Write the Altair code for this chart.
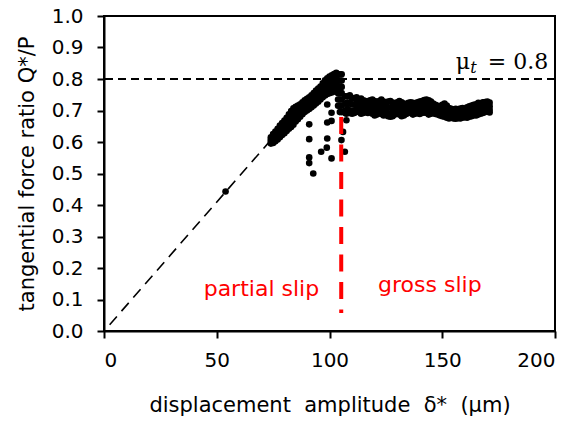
import altair as alt
import pandas as pd

# ---------------- data ----------------
# rising (partial-slip) band: columns of points
rise_x = [74, 75, 76, 77, 78, 79, 80, 81, 82, 83, 84, 85, 86, 87, 88, 89,
          90, 91, 92, 93, 94, 95, 96, 97, 98, 99, 100, 101, 102, 103]
rise_r1 = [0.615, 0.625, 0.633, 0.642, 0.652, 0.660, 0.668, 0.677, 0.688, 0.698,
           0.707, 0.712, 0.716, 0.720, 0.726, 0.732, 0.737, 0.742, 0.748, 0.755,
           0.763, 0.770, 0.776, 0.786, 0.796, 0.802, 0.808, 0.812, 0.816, 0.820]
rise_r2 = [0.608, 0.616, 0.623, 0.631, 0.640, 0.647, 0.655, 0.663, 0.673, 0.681,
           0.690, 0.696, 0.701, 0.707, 0.713, 0.720, 0.725, 0.730, 0.735, 0.742,
           0.749, 0.756, 0.762, 0.771, 0.780, 0.785, 0.790, 0.794, 0.797, 0.802]
rise_r3 = [0.602, 0.606, 0.612, 0.619, 0.627, 0.635, 0.641, 0.649, 0.657, 0.665,
           0.672, 0.681, 0.687, 0.693, 0.701, 0.707, 0.712, 0.717, 0.723, 0.729,
           0.736, 0.742, 0.749, 0.757, 0.764, 0.769, 0.773, 0.775, 0.779, 0.783]
rise_r4 = [0.595, 0.597, 0.602, 0.608, 0.615, 0.622, 0.628, 0.635, 0.642, 0.648,
           0.655, 0.665, 0.672, 0.680, 0.688, 0.695, 0.700, 0.705, 0.710, 0.716,
           0.722, 0.728, 0.735, 0.742, 0.748, 0.752, 0.755, 0.757, 0.760, 0.765]

# peak column near the transition
peak_x = [103.8, 103.8, 103.8, 103.8, 103.8, 103.8,
          104.6, 104.6, 104.6, 104.6, 104.6, 104.6, 104.6,
          105.4, 105.4, 105.4, 105.4, 105.4, 105.4, 105.4]
peak_y = [0.815, 0.795, 0.775, 0.755, 0.735, 0.715,
          0.815, 0.795, 0.775, 0.755, 0.735, 0.715, 0.695,
          0.815, 0.795, 0.775, 0.755, 0.735, 0.715, 0.695]

# gross-slip plateau
plat_x = list(range(107, 172))
plat_top = [0.745, 0.745, 0.748, 0.740, 0.738, 0.742, 0.735, 0.738, 0.732, 0.730,
            0.728, 0.732, 0.735, 0.730, 0.727, 0.730, 0.735, 0.728, 0.724, 0.728,
            0.730, 0.725, 0.722, 0.726, 0.730, 0.726, 0.722, 0.720, 0.724, 0.726,
            0.724, 0.720, 0.726, 0.728, 0.730, 0.733, 0.735, 0.732, 0.728, 0.722,
            0.718, 0.715, 0.712, 0.718, 0.722, 0.716, 0.708, 0.705, 0.703, 0.705,
            0.703, 0.706, 0.708, 0.705, 0.710, 0.713, 0.716, 0.718, 0.720, 0.724,
            0.722, 0.726, 0.727, 0.728, 0.725]
plat_mid = [0.722, 0.725, 0.724, 0.719, 0.719, 0.723, 0.719, 0.718, 0.716, 0.717,
            0.714, 0.717, 0.716, 0.711, 0.711, 0.715, 0.716, 0.710, 0.709, 0.709,
            0.709, 0.707, 0.708, 0.712, 0.712, 0.708, 0.707, 0.708, 0.712, 0.713,
            0.709, 0.709, 0.713, 0.712, 0.715, 0.717, 0.717, 0.713, 0.713, 0.711,
            0.707, 0.705, 0.702, 0.704, 0.705, 0.700, 0.695, 0.695, 0.693, 0.693,
            0.693, 0.694, 0.696, 0.696, 0.697, 0.700, 0.703, 0.705, 0.706, 0.709,
            0.710, 0.713, 0.715, 0.716, 0.713]
plat_low = [0.700, 0.705, 0.700, 0.698, 0.700, 0.705, 0.703, 0.698, 0.700, 0.705,
            0.700, 0.703, 0.698, 0.692, 0.695, 0.700, 0.697, 0.692, 0.695, 0.690,
            0.688, 0.690, 0.695, 0.698, 0.695, 0.690, 0.692, 0.697, 0.700, 0.700,
            0.695, 0.698, 0.700, 0.697, 0.700, 0.702, 0.700, 0.695, 0.698, 0.700,
            0.697, 0.695, 0.692, 0.690, 0.688, 0.685, 0.683, 0.685, 0.683, 0.682,
            0.684, 0.683, 0.685, 0.687, 0.685, 0.688, 0.690, 0.693, 0.692, 0.695,
            0.698, 0.700, 0.703, 0.705, 0.702]
plat_bot = [0.692, 0.697, 0.692, 0.690, 0.692, 0.697, 0.695, 0.690, 0.692, 0.697,
            0.692, 0.695, 0.690, 0.684, 0.687, 0.692, 0.689, 0.684, 0.687, 0.682,
            0.680, 0.682, 0.687, 0.690, 0.687, 0.682, 0.684, 0.689, 0.692, 0.692,
            0.687, 0.690, 0.692, 0.689, 0.692, 0.694, 0.692, 0.687, 0.690, 0.692,
            0.689, 0.687, 0.684, 0.682, 0.680, 0.677, 0.675, 0.677, 0.675, 0.674,
            0.676, 0.675, 0.677, 0.679, 0.677, 0.680, 0.682, 0.685, 0.684, 0.687,
            0.690, 0.692, 0.695, 0.697, 0.694]

# scattered outliers
out_x = [53.9, 91.0, 91.0, 91.0, 91.0, 92.8, 99.0, 100.9, 99.0, 100.9, 99.0, 98.8,
         96.3, 100.9, 106.0, 105.3, 106.8, 107.5, 107.5]
out_y = [0.443, 0.656, 0.609, 0.551, 0.533, 0.500, 0.719, 0.693, 0.662, 0.667, 0.611,
         0.582, 0.569, 0.548, 0.632, 0.606, 0.569, 0.669, 0.690]

# guide lines
elastic_x = [2.5, 73.0]
elastic_y = [0.02, 0.598]
mu_t = 0.8
trans_x = [105.2]
trans_y_top = [0.679]
trans_y_bot = [0.057]

# annotations
region_labels = ["partial slip", "gross slip"]
region_x = [69.8, 144.5]
region_y = [0.11, 0.124]

x_ticks = [0, 50, 100, 150, 200]
y_ticks = [0.0, 0.1, 0.2, 0.3, 0.4, 0.5, 0.6, 0.7, 0.8, 0.9, 1.0]

# ---------------- build tables ----------------
rows = []
for xs_, ys_ in [(rise_x, rise_r1), (rise_x, rise_r2), (rise_x, rise_r3), (rise_x, rise_r4),
                 (peak_x, peak_y), (plat_x, plat_top), (plat_x, plat_mid),
                 (plat_x, plat_low), (plat_x, plat_bot), (out_x, out_y)]:
    rows += [{"x": a, "y": b} for a, b in zip(xs_, ys_)]
pts = pd.DataFrame(rows)

FONT = "DejaVu Sans"
xsc = alt.Scale(domain=[0, 200], nice=False, zero=False)
ysc = alt.Scale(domain=[0, 1], nice=False, zero=False)
x_axis = alt.Axis(values=x_ticks,
                  title="displacement\u00a0 amplitude\u00a0 δ*\u00a0 (μm)",
                  titleY=80, titleBaseline="alphabetic", labelPadding=12)
y_axis = alt.Axis(values=y_ticks, format=".1f",
                  title="tangential force ratio Q*/P",
                  titleX=-71, titleBaseline="alphabetic", labelPadding=14)


def X(f="x"):
    return alt.X(f + ":Q", scale=xsc, axis=x_axis, title=x_axis.title)


def Y(f="y"):
    return alt.Y(f + ":Q", scale=ysc, axis=y_axis, title=y_axis.title)


points = alt.Chart(pts).mark_circle(color="black", size=44, opacity=1).encode(x=X(), y=Y())

elastic = alt.Chart(pd.DataFrame({"x": elastic_x, "y": elastic_y})).mark_line(
    color="black", strokeWidth=1.6, strokeDash=[11, 7]).encode(x=X(), y=Y())

mu_line = alt.Chart(pd.DataFrame({"y": [mu_t]})).mark_rule(
    color="black", strokeWidth=1.8, strokeDash=[8, 5]).encode(y=Y())

trans = alt.Chart(pd.DataFrame({"x": trans_x, "y": trans_y_top, "y2": trans_y_bot})).mark_rule(
    color="#ff0000", strokeWidth=4, strokeDash=[17, 10.5]).encode(x=X(), y=Y(), y2="y2:Q")

regions = alt.Chart(pd.DataFrame({"t": region_labels, "x": region_x, "y": region_y})).mark_text(
    color="#ff0000", font=FONT, fontSize=22, align="center", baseline="alphabetic").encode(
    x=X(), y=Y(), text="t:N")

mu_main = alt.Chart(pd.DataFrame({"t": ["μ", "= 0.8"], "x": [156.0, 170.2], "y": [0.833, 0.833]})).mark_text(
    color="black", font="DejaVu Serif", fontSize=22, align="left", baseline="alphabetic").encode(
    x=X(), y=Y(), text="t:N")

mu_sub = alt.Chart(pd.DataFrame({"t": ["t"], "x": [162.4], "y": [0.8186]})).mark_text(
    color="black", font="DejaVu Serif", fontSize=16, fontStyle="italic",
    align="left", baseline="alphabetic").encode(x=X(), y=Y(), text="t:N")

chart = alt.layer(points, elastic, mu_line, trans, regions, mu_main, mu_sub).properties(
    width=451, height=315,
    autosize=alt.AutoSizeParams(type="none"),
    padding={"left": 96, "top": 8, "right": 18, "bottom": 90},
).configure_view(stroke="black", strokeWidth=2).configure_axis(
    grid=False, domainColor="black", domainWidth=2, tickColor="black", tickWidth=2,
    tickSize=7, labelColor="black", titleColor="black", labelFont=FONT, titleFont=FONT,
    labelFontSize=20, titleFontSize=21, titleFontWeight="normal",
)

chart.save("out.html", embed_options={"renderer": "svg", "actions": False})
